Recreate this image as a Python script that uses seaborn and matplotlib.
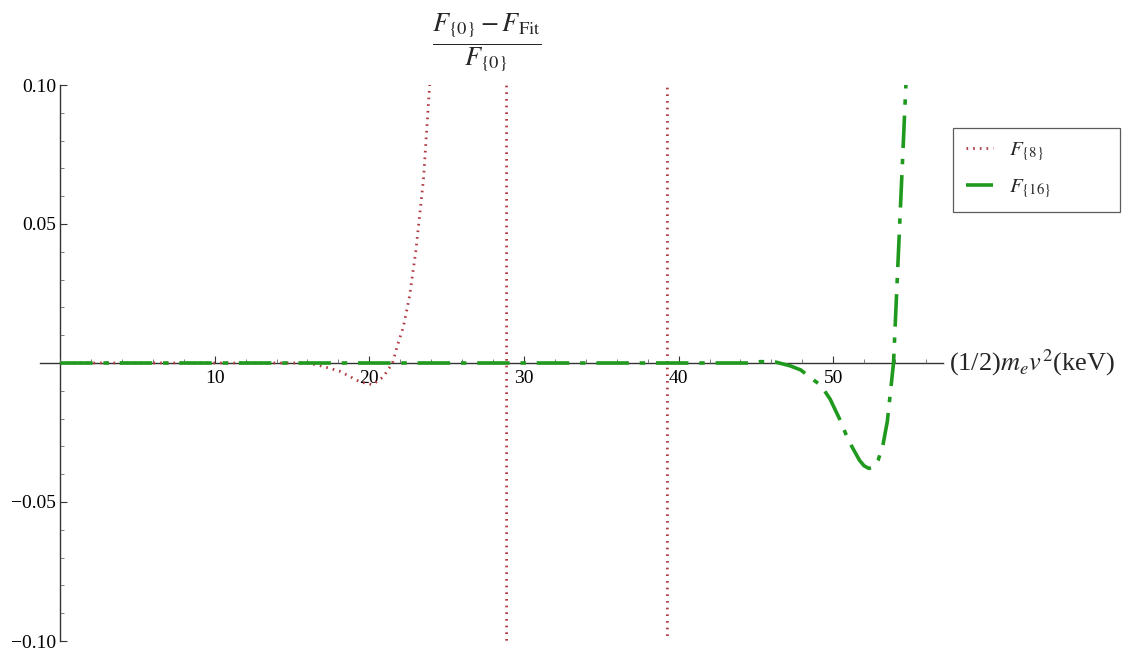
import matplotlib
matplotlib.use("Agg")
import matplotlib.pyplot as plt
import seaborn as sns
from matplotlib.ticker import MultipleLocator, FixedLocator, FixedFormatter

# ---- data ----
x_f8 = [0, 16.0, 17.0, 18.1, 19.4, 20.2, 20.9, 21.5, 21.8, 22.2, 22.6, 23.0, 23.5,
        23.9, 24.3, 28.85, 28.9, 39.25, 39.3, 56.0]
y_f8 = [0, 0, -0.0012, -0.003, -0.0068, -0.0078, -0.005, 0, 0.006, 0.013, 0.024,
        0.04, 0.066, 0.1, 0.14, 5.0, -5.0, -5.0, 5.0, 5.0]

x_f16 = [0, 44.5, 45.3, 46.3, 47.2, 47.9, 48.7, 49.2, 49.8, 50.4, 51.0, 51.7, 52.0,
         52.3, 52.6, 52.9, 53.2, 53.5, 53.9, 54.3, 54.7, 55.0]
y_f16 = [0, 0, 0.0005, 0.0003, -0.001, -0.0025, -0.006, -0.008, -0.013, -0.02,
         -0.028, -0.035, -0.037, -0.0379, -0.0376, -0.035, -0.03, -0.021, 0, 0.05,
         0.1, 0.13]

series_labels = [r"$F_{\{8\}}$", r"$F_{\{16\}}$"]
x_major = [10, 20, 30, 40, 50]
y_major = [-0.10, -0.05, 0.05, 0.10]
y_major_labels = ["\u22120.10", "\u22120.05", "0.05", "0.10"]

# ---- style ----
sns.set_style("white")
plt.rcParams["font.family"] = ["Liberation Serif", "DejaVu Serif"]
plt.rcParams["mathtext.fontset"] = "stix"

fig = plt.figure(figsize=(11.32, 6.55), dpi=100)
ax = fig.add_axes([40 / 1132, 1 - 641 / 655, 903 / 1132, 556 / 655])

red = "#b03c42"
green = "#1f9a1f"

sns.lineplot(x=x_f8, y=y_f8, ax=ax, sort=False, estimator=None, color=red,
             linewidth=2.0, label=series_labels[0])
sns.lineplot(x=x_f16, y=y_f16, ax=ax, sort=False, estimator=None, color=green,
             linewidth=2.6, label=series_labels[1])
lines = ax.get_lines()
lines[0].set_dashes([0.6, 1.8])
lines[1].set_dashes([9, 3, 1.5, 3])

ax.set_xlim(-1.3, 57.1)
ax.set_ylim(-0.1, 0.1)

for s in ["top", "right"]:
    ax.spines[s].set_visible(False)
ax.spines["left"].set_position(("data", 0))
ax.spines["bottom"].set_position(("data", 0))
for s in ["left", "bottom"]:
    ax.spines[s].set_color("#333333")
    ax.spines[s].set_linewidth(1.0)
    ax.spines[s].set_zorder(0.5)

ax.xaxis.set_major_locator(FixedLocator(x_major))
ax.xaxis.set_minor_locator(MultipleLocator(2))
ax.yaxis.set_major_locator(FixedLocator(y_major))
ax.yaxis.set_major_formatter(FixedFormatter(y_major_labels))
ax.yaxis.set_minor_locator(MultipleLocator(0.01))
ax.tick_params(axis="both", which="both", bottom=True, left=True, top=False, right=False)
ax.tick_params(axis="both", which="major", direction="in", length=5, width=0.8,
               color="#333333", labelsize=14, labelcolor="black")
ax.tick_params(axis="both", which="minor", direction="in", length=3, width=0.6,
               color="#666666")
ax.tick_params(axis="x", which="major", pad=5)
ax.tick_params(axis="y", which="major", pad=3)

ax.text(1.007, 0.5, r"(1/2)$m_e v^2$(keV)", transform=ax.transAxes,
        ha="left", va="center", fontsize=19)
fig.text(487 / 1132, 1 - 42 / 655,
         r"$\dfrac{F_{\{0\}}-F_{\mathrm{Fit}}}{F_{\{0\}}}$",
         ha="center", va="center", fontsize=19)

leg = ax.legend(loc="upper left",
                bbox_to_anchor=(953 / 1132, 1 - 203 / 655, 167 / 1132, 75 / 655),
                bbox_transform=fig.transFigure, mode="expand", frameon=True,
                fancybox=False, edgecolor="#333333", fontsize=15, handlelength=1.3,
                borderpad=0.6, labelspacing=0.7, handletextpad=0.8,
                borderaxespad=0)
leg.get_frame().set_linewidth(0.9)

fig.savefig("out.png", dpi=100)
